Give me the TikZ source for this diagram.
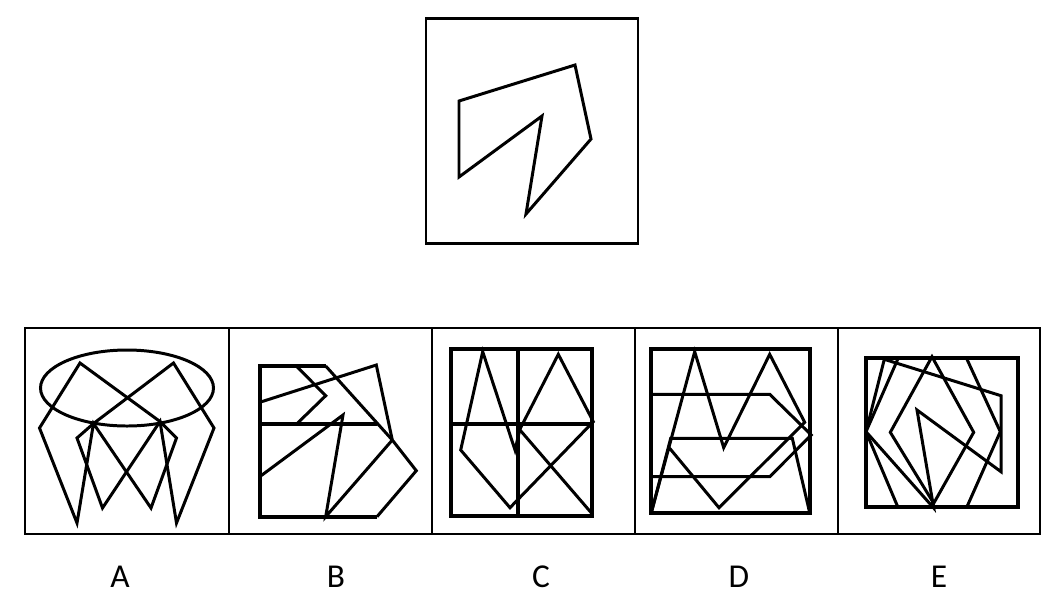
\documentclass[tikz,border=0pt]{standalone}
\usepackage{fontspec}
\setmainfont{Carlito}
\begin{document}
\begin{tikzpicture}[x=0.02cm,y=-0.02cm,
  fig/.style={line width=1.7pt,line join=miter},
  frame/.style={line width=2.3pt},
  panel/.style={line width=0.6pt},
  lab/.style={font=\fontsize{19}{22}\selectfont,anchor=center}]
\useasboundingbox[fill=white] (0,0) rectangle (1062,600);
% question
\draw[fig] (426,18) rectangle (638,243);
\draw[fig] (459,101) -- (575,65) -- (591,139) -- (526,214) -- (542,116) -- (459,177) -- cycle;
% panels
\draw[panel] (25,328) rectangle (1040,534);
\foreach \x in {229,432,635,838} \draw[panel] (\x,328) -- (\x,534);
% A
\draw[fig] (127,388) ellipse [x radius=86.5, y radius=38];
\draw[fig] (80,363) -- (39.5,428) -- (77,523) -- (93.5,423.5) -- (151,508) -- (176.5,438) -- (160,421.5) -- cycle;
\draw[fig] (173.5,363) -- (214,428) -- (176.5,523) -- (160,421.5) -- (102.5,508) -- (77,438) -- (93.5,423.5) -- cycle;
% B
\draw[frame] (377,516.7) -- (259.7,516.7) -- (259.7,366) -- (325.7,366);
\draw[frame] (259.7,424.3) -- (377,424.3);
\draw[fig] (325.7,366) -- (392.3,440);
\draw[fig] (296.3,366) -- (325.7,395.7) -- (296.3,424.3);
\draw[fig] (259.7,402.3) -- (376.3,365) -- (392.3,440) -- (416.3,470.7) -- (377,516.7);
\draw[fig] (392.3,440) -- (325.7,516.7) -- (343,415) -- (259.7,476.7);
% C
\draw[frame] (450.7,349) rectangle (592.3,515.7);
\draw[frame] (518.3,349) -- (518.3,515.7);
\draw[frame] (450.7,424.3) -- (592.3,424.3);
\draw[fig] (482.7,351.7) -- (460.7,450) -- (510,507.7) -- (593.3,421.7) -- (558.3,354.3) -- (520,429) -- (515,450) -- cycle;
\draw[fig] (520,430) -- (591.7,513.3);
% D
\draw[frame] (651.3,349) rectangle (809.7,512.7);
\draw[fig] (651.3,512.7) -- (694.7,351.7) -- (723.7,447.7) -- (769.7,354.3) -- (804.7,422.3) -- (719,507.7) -- (669.7,448.3);
\draw[fig] (651.3,512.7) -- (670.7,438.3) -- (792.3,438.3) -- (809.7,512.7);
\draw[fig] (653,394.3) -- (769.7,394.3) -- (811.3,435) -- (769.7,476.7) -- (653,476.7);
% E
\draw[frame] (866,358.3) rectangle (1017.7,506.7);
\draw[fig] (884.3,359.3) -- (1001,395.7) -- (1001,471.7) -- (917,410) -- (933.7,508) -- (866,431.7) -- cycle;
\draw[fig] (932,356.7) -- (973.7,432.3) -- (933.7,503.3) -- (890.3,432.3) -- cycle;
\draw[fig] (897.7,359.3) -- (866,431.7) -- (897.7,506.7);
\draw[fig] (967,359.3) -- (1000.3,431.7) -- (967,506.7);
% labels
\node[lab] (la) at (120,577) {A};
\node[lab] (lb) at (336,577) {B};
\node[lab] (lc) at (541,577) {C};
\node[lab] (ld) at (739,577) {D};
\node[lab] (le) at (939,577) {E};
\end{tikzpicture}
\end{document}
